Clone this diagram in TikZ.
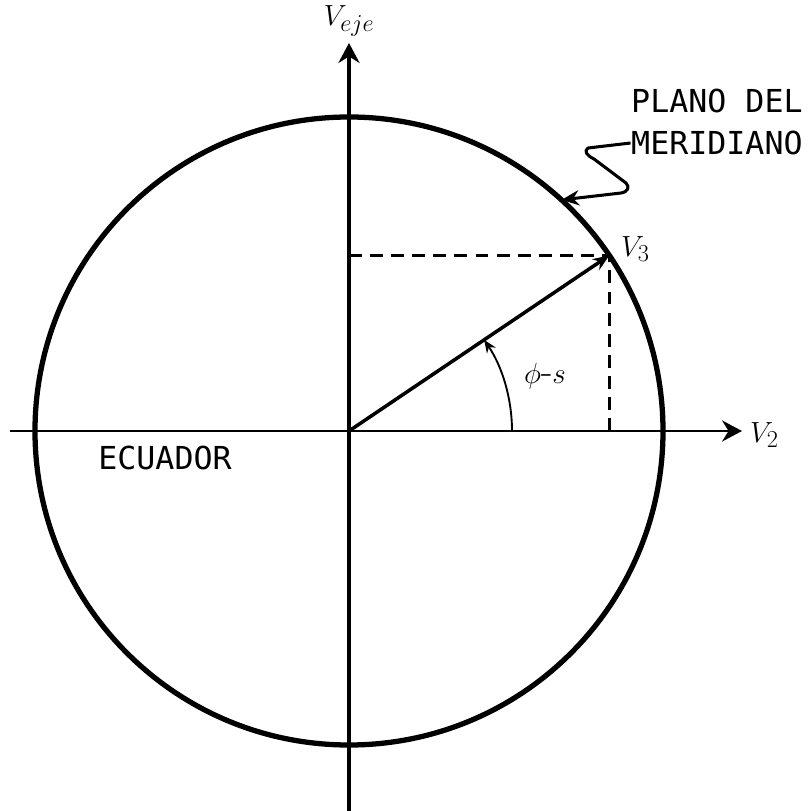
\documentclass[tikz,border=0pt]{standalone}
\usepackage{fontspec}
\newfontfamily\letrafont{DejaVu Sans Mono}
\usetikzlibrary{arrows.meta}

\tikzset{
  eje/.style={line width=2.2pt,-{Stealth[length=17pt,width=18pt]}},
  letrero/.style={font=\letrafont\fontsize{27}{36}\selectfont,inner sep=0pt},
  simbolo/.style={font=\fontsize{30}{34}\selectfont,inner sep=0pt},
  proy/.style={line width=2.2pt,dash pattern=on 11pt off 7pt},
}

\begin{document}
\begin{tikzpicture}[scale=.03]
  \useasboundingbox (-349,-380) rectangle (459,431);
  \coordinate (O) at (0,0);
  \coordinate (S) at (0,-380); \coordinate (N) at (0,388);
  \coordinate (W) at (-339,0); \coordinate (E) at (393,0);
  \coordinate (pV3) at (34:314); \coordinate (toque) at (47.4:314);
  \draw[line width=4.5pt] (O) circle[radius=314];
  \draw[eje,line width=3pt] (S)--(N);
  \draw[eje] (W)--(E);
  \draw[proy] (O |- pV3)--(pV3);
  \draw[proy] (pV3 |- O)--(pV3);
  \draw[line width=3pt,-{Stealth[length=14pt,width=11pt]}] (O)--(pV3);
  \draw[line width=1.6pt,-{Stealth[length=11pt,width=9pt]}] (163,0) arc[start angle=0,end angle=34,radius=163];
  \node[simbolo] (veje) at (0,410) {$V_{eje}$};
  \node[simbolo,anchor=west] (v2) at (401,-4) {$V_2$};
  \node[simbolo,anchor=west] (v3) at (272,182) {$V_3$};
  \node[simbolo,font=\fontsize{32}{36}\selectfont] (angulo) at (196,55) {$\phi$-$s$};
  \node[letrero] (ecuador) at (-184,-27) {ECUADOR};
  \node[letrero,anchor=west] (plano) at (282,330) {PLANO DEL};
  \node[letrero,anchor=west] (meridiano) at (282,288) {MERIDIANO};
  \draw[line width=2.6pt,line join=round,-{Stealth[length=15pt,width=13pt]}] ([xshift=-13pt]meridiano.west)
    -- (239,283) .. controls (235,280) and (237,276) .. (245,272)
    -- (277,248) .. controls (281,244) and (279,239) .. (272,238) -- (toque);
\end{tikzpicture}
\end{document}
